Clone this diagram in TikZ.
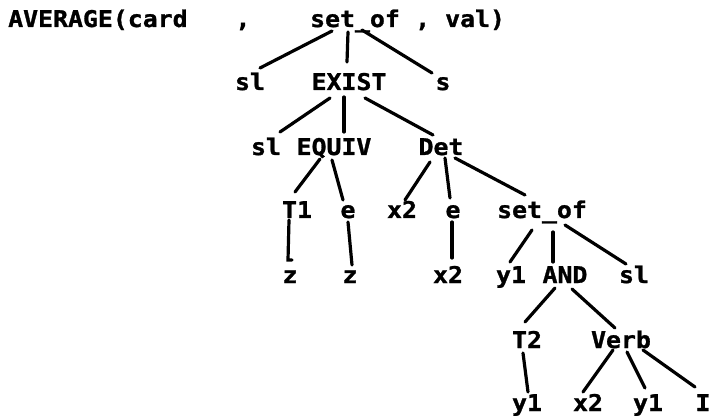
\documentclass[tikz,border=0pt]{standalone}
\usepackage{fontspec}
\newfontfamily\treefont{DejaVu Sans Mono}[FakeStretch=1.08,FakeBold=1.2]
\begin{document}
\begin{tikzpicture}[x=1pt,y=1pt,
  lbl/.style={inner sep=0pt,anchor=base,font=\treefont\bfseries\fontsize{23}{23}\selectfont},
  edge/.style={line width=3.2pt,line cap=round}]
\useasboundingbox (0,0) rectangle (710,-417);
% row 1
\node[lbl,anchor=base west] (avg) at (8,-27) {AVERAGE(card};
\node[lbl] (comma) at (243,-27) {,};
\node[lbl] (setofA) at (355,-27) {set\_of};
\node[lbl,anchor=base west] (rest) at ([xshift=15]setofA.base east) {, val)};
% row 2
\node[lbl] (slA) at (250,-90) {sl};
\node[lbl] (exist) at (349,-90) {EXIST};
\node[lbl] (s) at (443,-90) {s};
% row 3
\node[lbl] (slB) at (266,-155) {sl};
\node[lbl] (equiv) at (334,-155) {EQUIV};
\node[lbl] (det) at (441,-155) {Det};
% row 4
\node[lbl] (tone) at (297,-218) {T1};
\node[lbl] (eA) at (348,-218) {e};
\node[lbl] (xA) at (402,-218) {x2};
\node[lbl] (eB) at (453,-218) {e};
\node[lbl] (setofB) at (542,-218) {set\_of};
% row 5
\node[lbl] (zA) at (290,-283) {z};
\node[lbl] (zB) at (350,-283) {z};
\node[lbl] (xB) at (448,-283) {x2};
\node[lbl] (yA) at (511,-283) {y1};
\node[lbl] (and) at (565,-283) {AND};
\node[lbl] (slC) at (634,-283) {sl};
% row 6
\node[lbl] (ttwo) at (527,-348) {T2};
\node[lbl] (verb) at (621,-348) {Verb};
% row 7
\node[lbl] (yB) at (527,-411) {y1};
\node[lbl] (xC) at (588,-411) {x2};
\node[lbl] (yC) at (648,-411) {y1};
\node[lbl] (iv) at (703,-411) {I};
% edges
\draw[edge] ([shift={(-23,-4)}]setofA.base) -- ([shift={(10,22)}]slA.base);
\draw[edge] ([shift={(-7,-5)}]setofA.base) -- ([shift={(-2,28)}]exist.base);
\draw[edge] ([shift={(7,-3)}]setofA.base) -- ([shift={(-11,17)}]s.base);
\draw[edge] ([shift={(-19,-8)}]exist.base) -- ([shift={(14,23)}]slB.base);
\draw[edge] ([shift={(-5,-7)}]exist.base) -- ([shift={(10,23)}]equiv.base);
\draw[edge] ([shift={(16,-8)}]exist.base) -- ([shift={(-8,20)}]det.base);
\draw[edge] ([shift={(-14,-4)}]equiv.base) -- ([shift={(-2,26)}]tone.base);
\draw[edge] ([shift={(-2,-5)}]equiv.base) -- ([shift={(-5,18)}]eA.base);
\draw[edge] ([shift={(-11,-7)}]det.base) -- ([shift={(3,18)}]xA.base);
\draw[edge] ([shift={(4,-3)}]det.base) -- ([shift={(-3,20)}]eB.base);
\draw[edge] ([shift={(14,-3)}]det.base) -- ([shift={(-17,23)}]setofB.base);
\draw[edge] ([shift={(-8,-2)}]tone.base) -- ([shift={(-2,23)}]zA.base) -- ++(4,0);
\draw[edge] ([shift={(0,-4)}]eA.base) -- ([shift={(2,18)}]zB.base);
\draw[edge] ([shift={(-1,-4)}]eB.base) -- ([shift={(4,25)}]xB.base);
\draw[edge] ([shift={(-10,-12)}]setofB.base) -- ([shift={(-1,21)}]yA.base);
\draw[edge] ([shift={(11,-14)}]setofB.base) -- ([shift={(-12,21)}]and.base);
\draw[edge] ([shift={(23,-7)}]setofB.base) -- ([shift={(-8,19)}]slC.base);
\draw[edge] ([shift={(-10,-5)}]and.base) -- ([shift={(-2,26)}]ttwo.base);
\draw[edge] ([shift={(7,-6)}]and.base) -- ([shift={(-6,20)}]verb.base);
\draw[edge] ([shift={(-4,-5)}]ttwo.base) -- ([shift={(1,19)}]yB.base);
\draw[edge] ([shift={(-8,-2)}]verb.base) -- ([shift={(-5,19)}]xC.base);
\draw[edge] ([shift={(6,-4)}]verb.base) -- ([shift={(-3,23)}]yC.base);
\draw[edge] ([shift={(22,-2)}]verb.base) -- ([shift={(-8,24)}]iv.base);
\end{tikzpicture}
\end{document}
